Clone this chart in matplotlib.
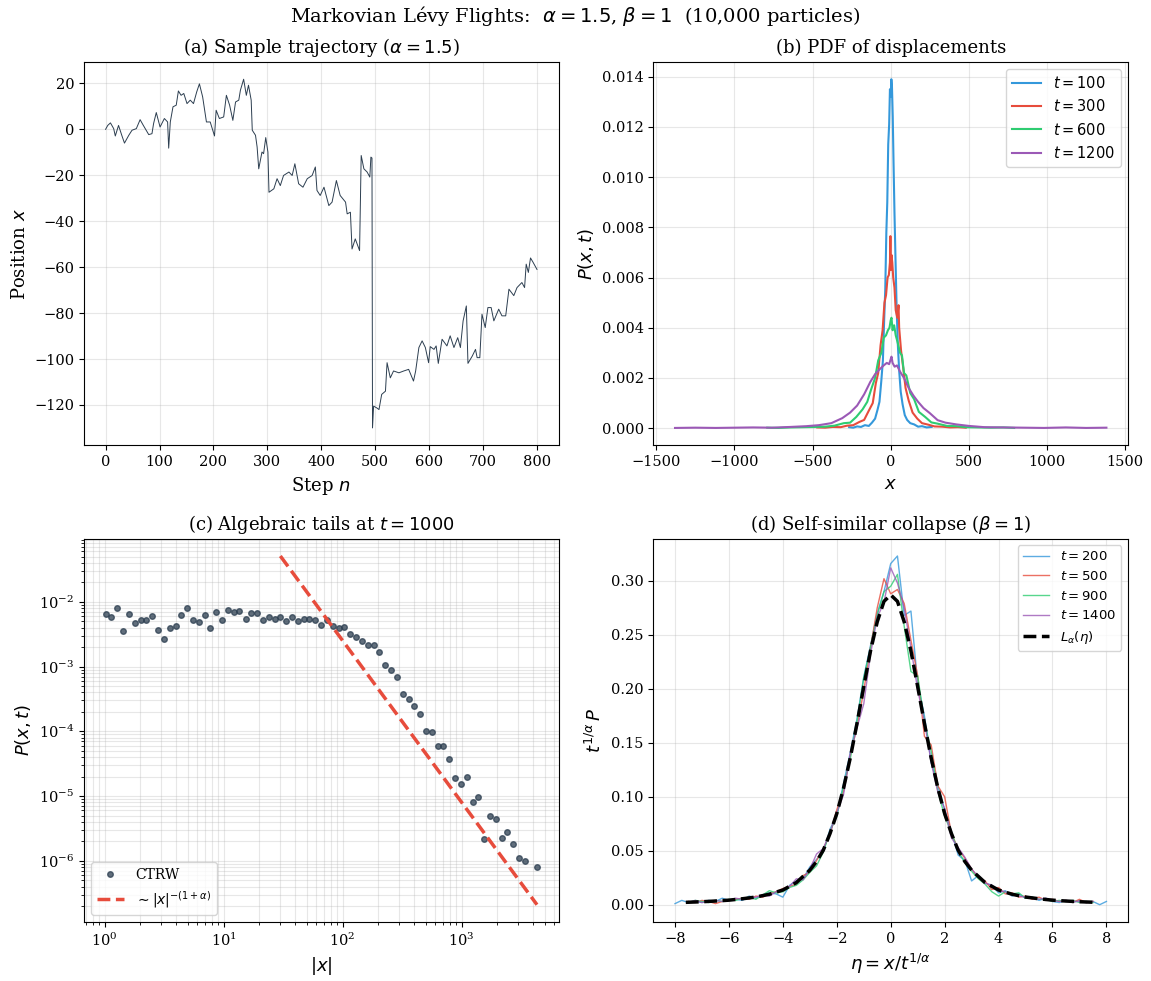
import numpy as np
import matplotlib
matplotlib.use("Agg")
import matplotlib.pyplot as plt

plt.rcParams["font.family"] = "serif"
plt.rcParams["font.serif"] = ["DejaVu Serif"]
plt.rcParams["mathtext.fontset"] = "dejavusans"
plt.rcParams["axes.titlesize"] = 13
plt.rcParams["axes.labelsize"] = 13
plt.rcParams["xtick.labelsize"] = 10.5
plt.rcParams["ytick.labelsize"] = 10.5

# (a) sample trajectory
traj_n = [0, 4, 9, 15, 18, 24, 30, 35, 43, 49, 57, 64, 70, 80, 86, 89, 94, 101, 109, 115,
          117, 120, 125, 131, 135, 140, 145, 151, 157, 163, 169, 174, 180, 187, 194, 202, 205,
          211, 219, 224, 230, 236, 241, 247, 250, 256, 261, 265, 270, 272, 278, 281, 284, 290,
          293, 297, 301, 303, 312, 318, 324, 330, 340, 346, 351, 358, 366, 374, 383, 389, 392,
          398, 405, 414, 420, 428, 435, 445, 448, 454, 457, 463, 471, 474, 479, 485, 490, 492,
          494, 495, 497, 503, 507, 512, 519, 522, 528, 534, 544, 553, 562, 571, 575, 581, 587,
          593, 599, 602, 609, 613, 617, 624, 633, 639, 646, 653, 658, 663, 669, 672, 680, 686,
          689, 694, 698, 704, 709, 715, 720, 729, 735, 742, 748, 757, 763, 772, 777, 780, 784,
          788, 793, 800]
traj_x = [0, 1.7, 2.8, 0.3, -2.9, 1.7, -2.6, -6, -2.6, -0.4, 0.3, 4.2, 1.7, -2.3, -1.9, 2.5,
          7.3, 1.0, 4.7, 3.2, -8.2, 3.2, 9.8, 10.5, 16.7, 14.8, 15.6, 11.2, 12.7, 11.2, 16.3,
          19.8, 14.1, 3.2, 3.2, -2.9, 8.3, 4.7, 5.4, 14.8, 10.5, 3.9, 11.9, 12.7, 17, 21.8, 14.8,
          19.2, 12.7, -0.4, -2.6, -7.7, -17.2, -9.9, -10.6, -3.6, -9.9, -27.4, -25.9, -21.5,
          -24.5, -20.1, -18.6, -20.1, -15, -23.7, -25.2, -21.5, -20.1, -16.4, -26.6, -28.8,
          -25.2, -33.2, -31.7, -22.3, -28.8, -31.7, -36.8, -36.1, -52.1, -47.7, -52.8, -11.4,
          -17.2, -18.6, -20.8, -12.1, -12.5, -130, -120.5, -121.3, -122, -115.4, -114, -101.6,
          -108.2, -105.2, -106, -105.2, -104.5, -109.6, -105.2, -95, -92.1, -95, -101.6, -94.6,
          -95.8, -94.3, -101.9, -91.4, -94.3, -89.9, -95, -90.7, -95, -83.4, -76.9, -101.9,
          -98.7, -95.8, -99.4, -99.4, -80.5, -86.3, -77.6, -77.6, -83.4, -78.3, -81.2, -81.2,
          -69.6, -72.4, -68.9, -66.7, -68.9, -58.7, -62.3, -56, -58, -61]

# (b) PDFs of displacement (P in units of 1e-3)
x_t100 = [-266, -240, -215, -190, -165, -140, -120, -100, -85, -72, -60, -50, -42, -35, -28,
          -22, -16, -10, -5, 0, 4, 8, 13, 18, 24, 30, 37, 45, 54, 64, 76, 90, 105, 125, 150,
          175, 200, 230, 262]
p_t100 = [0.04, 0.02, 0.07, 0.05, 0.12, 0.09, 0.22, 0.38, 0.72, 1.05, 1.9, 2.7, 4.3, 5.5, 7.8,
          9.0, 11.3, 12.1, 13.5, 13.2, 13.9, 13.6, 12.4, 10.6, 8.6, 6.9, 5.0, 3.4, 2.3, 1.45,
          0.95, 0.52, 0.33, 0.2, 0.15, 0.06, 0.08, 0.03, 0.05]
x_t300 = [-470, -420, -370, -320, -280, -240, -200, -170, -140, -115, -95, -80, -65, -52, -40,
          -30, -20, -12, -5, -2, 1, 5, 10, 16, 24, 32, 42, 50, 54, 66, 80, 95, 115, 140, 170,
          200, 240, 280, 330, 380, 430, 480]
p_t300 = [0.03, 0.02, 0.05, 0.04, 0.10, 0.12, 0.25, 0.33, 0.70, 1.0, 1.8, 2.2, 3.3, 3.9, 5.0,
          5.3, 6.0, 6.1, 6.6, 7.65, 6.3, 6.9, 6.6, 6.0, 5.6, 4.7, 4.4, 4.9, 4.0, 3.1, 2.4, 1.6,
          1.1, 0.62, 0.38, 0.20, 0.14, 0.07, 0.06, 0.03, 0.04, 0.02]
x_t600 = [-790, -720, -640, -560, -480, -420, -360, -300, -260, -220, -180, -150, -125, -100,
          -80, -60, -45, -30, -18, -8, 0, 5, 12, 22, 32, 45, 60, 72, 85, 100, 125, 150, 180,
          220, 260, 300, 360, 420, 480, 560, 640, 720, 790]
p_t600 = [0.02, 0.01, 0.03, 0.04, 0.05, 0.06, 0.1, 0.2, 0.22, 0.45, 0.75, 1.05, 1.55, 2.0, 2.7,
          3.0, 3.6, 3.7, 3.9, 4.0, 4.3, 4.4, 3.9, 4.1, 3.7, 3.4, 3.0, 2.9, 2.2, 2.1, 1.4, 1.15,
          0.65, 0.45, 0.23, 0.18, 0.09, 0.08, 0.04, 0.03, 0.02, 0.03, 0.01]
x_t1200 = [-1380, -1250, -1120, -1000, -880, -760, -640, -540, -460, -380, -310, -260, -215,
           -170, -130, -100, -70, -45, -25, -10, 0, 5, 12, 25, 40, 60, 85, 115, 145, 175, 210,
           250, 300, 350, 420, 500, 600, 720, 850, 980, 1120, 1250, 1380]
p_t1200 = [0.01, 0.02, 0.01, 0.02, 0.03, 0.02, 0.05, 0.08, 0.12, 0.2, 0.4, 0.62, 0.9, 1.35,
           1.85, 2.15, 2.35, 2.5, 2.6, 2.55, 2.75, 2.85, 2.6, 2.45, 2.5, 2.25, 2.0, 1.6, 1.3,
           1.05, 0.8, 0.6, 0.32, 0.22, 0.15, 0.09, 0.04, 0.03, 0.02, 0.01, 0.03, 0.01, 0.02]

# (c) tails at t = 1000
tail_x = [1.02, 1.14, 1.28, 1.43, 1.60, 1.79, 2.01, 2.25, 2.52, 2.82, 3.15, 3.53, 3.95, 4.42,
          4.95, 5.54, 6.2, 6.93, 7.76, 8.69, 9.72, 10.9, 12.2, 13.6, 15.3, 17.1, 19.1, 21.4,
          23.9, 26.8, 30.0, 33.6, 37.6, 42.1, 47.1, 52.7, 59.0, 66.0, 73.9, 82.7, 92.5, 103.5,
          115.9, 129.7, 145, 162, 182, 204, 228, 255, 286, 320, 358, 400, 448, 501, 561, 628,
          703, 787, 881, 986, 1104, 1235, 1383, 1548, 1733, 1938, 2168, 2427, 2717, 3041,
          3404, 4295]
tail_p = [6.6e-3, 5.9e-3, 8.1e-3, 3.6e-3, 6.4e-3, 4.7e-3, 5.2e-3, 5.3e-3, 6.1e-3, 3.65e-3,
          2.7e-3, 3.9e-3, 4.3e-3, 6.15e-3, 7.9e-3, 5.2e-3, 4.9e-3, 6.15e-3, 3.9e-3, 7.0e-3,
          5.2e-3, 7.4e-3, 7.0e-3, 7.1e-3, 5.4e-3, 6.7e-3, 6.8e-3, 5.2e-3, 5.8e-3, 5.5e-3,
          5.9e-3, 5.1e-3, 5.9e-3, 5.0e-3, 5.5e-3, 5.5e-3, 5.15e-3, 4.4e-3, 5.2e-3, 4.3e-3,
          3.96e-3, 4.06e-3, 3.24e-3, 2.9e-3, 2.44e-3, 2.19e-3, 2.19e-3, 1.65e-3, 1.04e-3,
          8.7e-4, 6.8e-4, 3.75e-4, 3.14e-4, 2.45e-4, 1.82e-4, 1.02e-4, 9.7e-5, 5.9e-5, 5.9e-5,
          3.8e-5, 1.91e-5, 1.55e-5, 1.98e-5, 8.1e-6, 9.7e-6, 2.16e-6, 4.9e-6, 4.35e-6, 2.29e-6,
          2.74e-6, 1.85e-6, 1.09e-6, 9.9e-7, 7.9e-7]
ref_x = [30, 4300]
ref_p = [5.1e-2, 2.1e-7]

# (d) rescaled PDFs
eta_wide = [-8.0, -7.75, -7.5, -7.25, -7.0, -6.75, -6.5, -6.25, -6.0, -5.75, -5.5, -5.25, -5.0,
            -4.75, -4.5, -4.25, -4.0, -3.75, -3.5, -3.25, -3.0, -2.75, -2.5, -2.25, -2.0,
            -1.75, -1.5, -1.25, -1.0, -0.75, -0.5, -0.25, 0.0, 0.25, 0.5, 0.75, 1.0, 1.25, 1.5,
            1.75, 2.0, 2.25, 2.5, 2.75, 3.0, 3.25, 3.5, 3.75, 4.0, 4.25, 4.5, 4.75, 5.0, 5.25,
            5.5, 5.75, 6.0, 6.25, 6.5, 6.75, 7.0, 7.25, 7.5, 7.75, 8.0]
eta = eta_wide[2:-2]
s_t200 = [0.001, 0.004, 0.002, 0.003, 0.002, 0.004, 0.003, 0.006, 0.004, 0.005, 0.004, 0.008,
          0.006, 0.009, 0.011, 0.010, 0.007, 0.018, 0.022, 0.024, 0.035, 0.042, 0.049, 0.070,
          0.083, 0.112, 0.141, 0.172, 0.211, 0.240, 0.270, 0.290, 0.316, 0.323, 0.268, 0.272,
          0.205, 0.175, 0.132, 0.110, 0.088, 0.068, 0.046, 0.041, 0.022, 0.027, 0.020, 0.018,
          0.011, 0.013, 0.008, 0.010, 0.006, 0.007, 0.004, 0.006, 0.003, 0.002, 0.004, 0.002,
          0.004, 0.002, 0.003, 0.000, 0.003]
s_t500 = [0.003, 0.002, 0.004, 0.003, 0.001, 0.003, 0.004, 0.005, 0.006, 0.005, 0.008, 0.007,
          0.010, 0.012, 0.015, 0.017, 0.019, 0.027, 0.030, 0.041, 0.052, 0.065, 0.088, 0.105,
          0.138, 0.165, 0.198, 0.238, 0.275, 0.302, 0.288, 0.292, 0.279, 0.245, 0.212, 0.156,
          0.148, 0.110, 0.100, 0.066, 0.052, 0.043, 0.033, 0.025, 0.022, 0.014, 0.016, 0.010,
          0.011, 0.007, 0.008, 0.005, 0.007, 0.004, 0.005, 0.003, 0.004, 0.002, 0.005, 0.002,
          0.003]
s_t900 = [0.002, 0.004, 0.003, 0.002, 0.004, 0.003, 0.005, 0.004, 0.006, 0.007, 0.005, 0.009,
          0.013, 0.011, 0.012, 0.016, 0.018, 0.023, 0.030, 0.036, 0.049, 0.068, 0.082, 0.110,
          0.135, 0.170, 0.210, 0.238, 0.268, 0.290, 0.295, 0.306, 0.258, 0.216, 0.212, 0.170,
          0.142, 0.105, 0.082, 0.067, 0.050, 0.039, 0.031, 0.024, 0.019, 0.012, 0.008, 0.012,
          0.010, 0.011, 0.006, 0.007, 0.005, 0.005, 0.003, 0.004, 0.003, 0.004, 0.002, 0.003,
          0.002]
s_t1400 = [0.002, 0.004, 0.002, 0.003, 0.004, 0.003, 0.004, 0.006, 0.005, 0.007, 0.007, 0.009,
           0.008, 0.012, 0.014, 0.017, 0.024, 0.023, 0.033, 0.047, 0.052, 0.067, 0.085, 0.102,
           0.140, 0.164, 0.186, 0.232, 0.266, 0.280, 0.312, 0.298, 0.275, 0.238, 0.199, 0.170,
           0.132, 0.104, 0.089, 0.062, 0.053, 0.044, 0.033, 0.026, 0.020, 0.018, 0.013, 0.012,
           0.009, 0.008, 0.007, 0.006, 0.005, 0.006, 0.004, 0.003, 0.004, 0.003, 0.003, 0.002,
           0.003]
eta_theory = [-7.6, -7.0, -6.5, -6.0, -5.5, -5.0, -4.5, -4.0, -3.5, -3.0, -2.75, -2.5, -2.25,
              -2.0, -1.75, -1.5, -1.25, -1.0, -0.75, -0.5, -0.25, 0.0, 0.25, 0.5, 0.75, 1.0,
              1.25, 1.5, 1.75, 2.0, 2.25, 2.5, 2.75, 3.0, 3.5, 4.0, 4.5, 5.0, 5.5, 6.0, 6.5,
              7.0, 7.5]
levy_theory = [0.0022, 0.00275, 0.0034, 0.0042, 0.0055, 0.0071, 0.0097, 0.0136, 0.0205, 0.032,
               0.040, 0.0505, 0.066, 0.0844, 0.108, 0.136, 0.168, 0.202, 0.235, 0.262, 0.281,
               0.287, 0.281, 0.262, 0.235, 0.202, 0.168, 0.136, 0.108, 0.0844, 0.066, 0.0505,
               0.040, 0.032, 0.0205, 0.0136, 0.0097, 0.0071, 0.0055, 0.0042, 0.0034, 0.00275,
               0.0023]

blue, red, green, purple = "#3498db", "#e74c3c", "#2ecc71", "#9b59b6"

fig, axes = plt.subplots(2, 2, figsize=(11.51, 9.81), dpi=100)
fig.subplots_adjust(left=0.073, right=0.980, top=0.937, bottom=0.060, wspace=0.20, hspace=0.243)
fig.suptitle(r"Markovian Lévy Flights:  $\alpha=1.5$, $\beta=1$  (10,000 particles)",
             fontsize=14, y=0.996)

# (a)
ax = axes[0, 0]
ax.plot(traj_n, traj_x, color="#2c3e50", lw=0.7)
ax.set_title(r"(a) Sample trajectory ($\alpha=1.5$)")
ax.set_xlabel(r"Step $n$")
ax.set_ylabel(r"Position $x$")
ax.grid(alpha=0.3)

# (b)
ax = axes[0, 1]
for xs, ps, c, lab in [(x_t100, p_t100, blue, r"$t=100$"), (x_t300, p_t300, red, r"$t=300$"),
                       (x_t600, p_t600, green, r"$t=600$"), (x_t1200, p_t1200, purple, r"$t=1200$")]:
    ax.plot(xs, np.array(ps) * 1e-3, color=c, lw=1.5, label=lab)
ax.set_title("(b) PDF of displacements")
ax.set_xlabel(r"$x$")
ax.set_ylabel(r"$P(x,t)$")
ax.legend(fontsize=10.5, loc="upper right")
ax.grid(alpha=0.3)

# (c)
ax = axes[1, 0]
ax.loglog(tail_x, tail_p, "o", color="#2c3e50", ms=4, alpha=0.75, label="CTRW")
ax.loglog(ref_x, ref_p, "--", color=red, lw=2.5, label=r"$\sim|x|^{-(1+\alpha)}$")
ax.set_title(r"(c) Algebraic tails at $t=1000$")
ax.set_xlabel(r"$|x|$")
ax.set_ylabel(r"$P(x,t)$")
ax.legend(fontsize=10, loc="lower left")
ax.grid(True, which="both", alpha=0.3)

# (d)
ax = axes[1, 1]
ax.plot(eta_wide, s_t200, color=blue, lw=1, alpha=0.8, label=r"$t=200$")
ax.plot(eta, s_t500, color=red, lw=1, alpha=0.8, label=r"$t=500$")
ax.plot(eta, s_t900, color=green, lw=1, alpha=0.8, label=r"$t=900$")
ax.plot(eta, s_t1400, color=purple, lw=1, alpha=0.8, label=r"$t=1400$")
ax.plot(eta_theory, levy_theory, "k--", lw=2.5, label=r"$L_\alpha(\eta)$")
ax.set_title(r"(d) Self-similar collapse ($\beta=1$)")
ax.set_xlabel(r"$\eta=x/t^{1/\alpha}$")
ax.set_ylabel(r"$t^{1/\alpha}\,P$")
ax.legend(fontsize=9.5, loc="upper right")
ax.grid(alpha=0.3)

fig.savefig("out.png", dpi=100)
